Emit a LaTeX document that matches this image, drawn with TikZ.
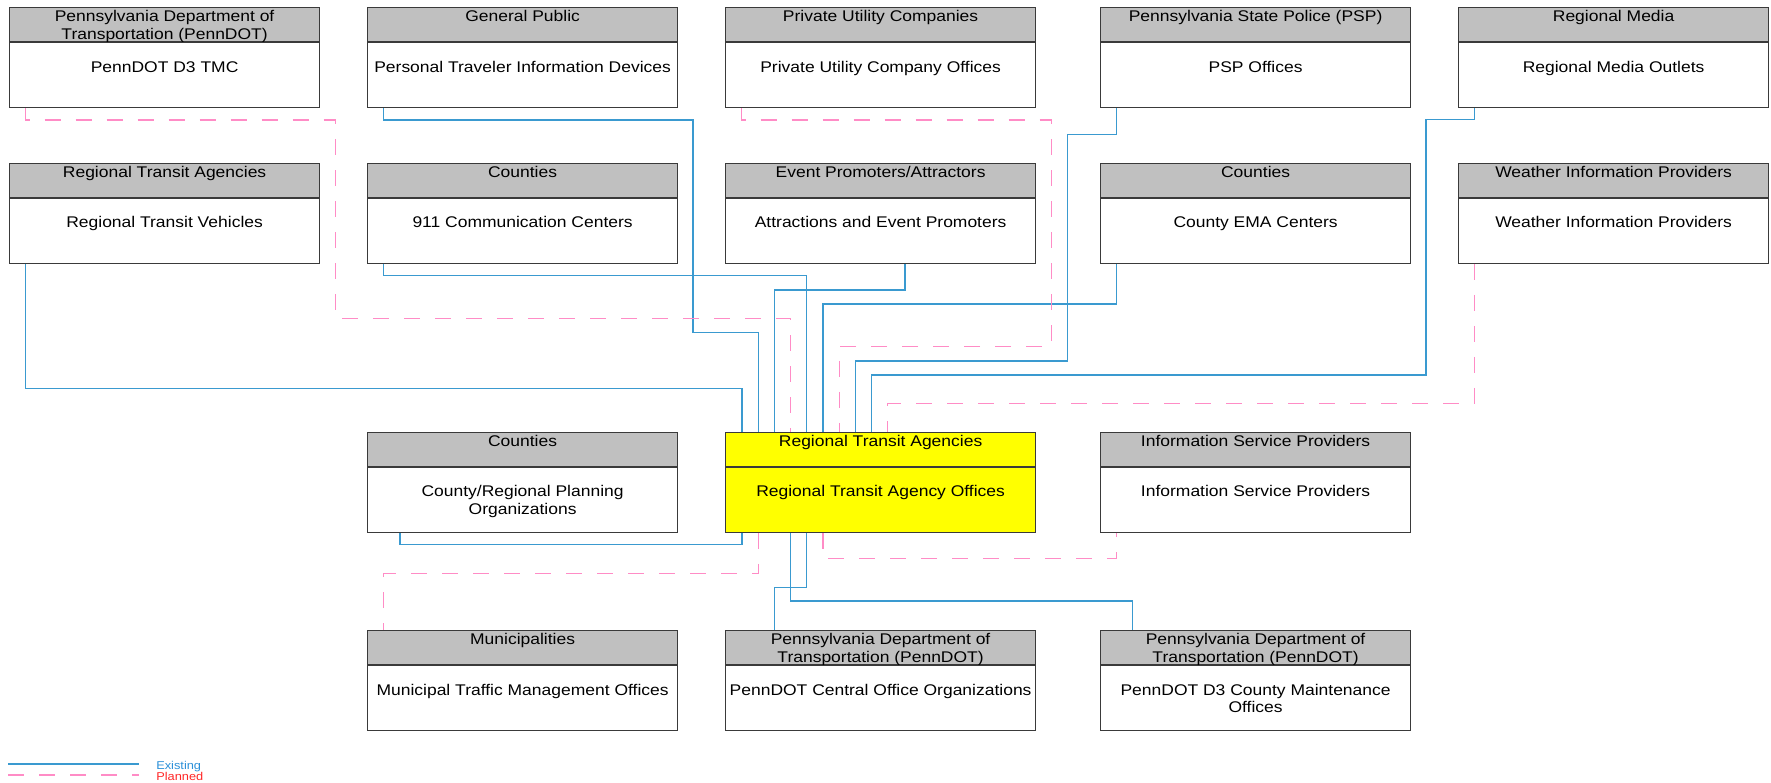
\documentclass[tikz,border=0pt]{standalone}
\usepackage{fontspec}
\setmainfont{Liberation Sans}[FakeStretch=1.13]
\usepackage{tikz}
\usetikzlibrary{calc}
\definecolor{boxc}{HTML}{3A3A3A}
\definecolor{hdrc}{HTML}{C0C0C0}
\definecolor{rtay}{HTML}{FFFF00}
\definecolor{exc}{HTML}{3A9AD0}
\definecolor{plc}{HTML}{FF8CC6}
\definecolor{extx}{HTML}{2A8FD8}
\definecolor{pltx}{HTML}{FF2626}
\newlength{\pxu}\setlength{\pxu}{0.75pt}
\tikzset{
  hdr/.style={draw=boxc,line width=0.9pt,fill=hdrc,inner sep=0pt,anchor=north west},
  bdy/.style={draw=boxc,line width=0.9pt,fill=white,inner sep=0pt,anchor=north},
  exist/.style={exc,line width=1pt},
  plan/.style={plc,line width=1pt,dash pattern=on 12pt off 11.25pt},
  lgtxt/.style={font=\fontsize{8.5}{10}\selectfont,anchor=base west,inner sep=0pt}
}
\newcommand{\sysbox}[6][]{%
  \node[hdr,#1] (#2h) at (#3,#4) {\begin{minipage}[c][34\pxu][t]{310\pxu}\centering\rule{0pt}{14\pxu}#5\end{minipage}};
  \node[bdy,#1] (#2) at (#2h.south) {\begin{minipage}[c][65\pxu][t]{310\pxu}\centering\rule{0pt}{29.5\pxu}#6\end{minipage}};}

\begin{document}
\begin{tikzpicture}[x=0.75pt,y=-0.75pt,font=\fontsize{11.6}{13.1}\selectfont]
\useasboundingbox (0,0) rectangle (1771,782);
\sysbox{tmc}{9}{7}{Pennsylvania Department of\\Transportation (PennDOT)}{PennDOT D3 TMC}
\sysbox{ptid}{367}{7}{General Public}{Personal Traveler Information Devices}
\sysbox{utl}{725}{7}{Private Utility Companies}{Private Utility Company Offices}
\sysbox{psp}{1100}{7}{Pennsylvania State Police (PSP)}{PSP Offices}
\sysbox{media}{1458}{7}{Regional Media}{Regional Media Outlets}
\sysbox{veh}{9}{162.5}{Regional Transit Agencies}{Regional Transit Vehicles}
\sysbox{pc911}{367}{162.5}{Counties}{911 Communication Centers}
\sysbox{evt}{725}{162.5}{Event Promoters/Attractors}{Attractions and Event Promoters}
\sysbox{ema}{1100}{162.5}{Counties}{County EMA Centers}
\sysbox{wx}{1458}{162.5}{Weather Information Providers}{Weather Information Providers}
\sysbox{mpo}{367}{431.5}{Counties}{County/Regional Planning\\Organizations}
\sysbox[fill=rtay]{rta}{725}{431.5}{Regional Transit Agencies}{Regional Transit Agency Offices}
\sysbox{isp}{1100}{431.5}{Information Service Providers}{Information Service Providers}
\sysbox{muni}{367}{630}{Municipalities}{Municipal Traffic Management Offices}
\sysbox{pdco}{725}{630}{Pennsylvania Department of\\Transportation (PennDOT)}{PennDOT Central Office Organizations}
\sysbox{pdcm}{1100}{630}{Pennsylvania Department of\\Transportation (PennDOT)}{PennDOT D3 County Maintenance\\Offices}

\draw[exist] ($(veh.south west)+(16.3,0)$) |- (742,388.5) -- ($(rtah.north west)+(17,0)$);
\draw[exist] ($(ptid.south west)+(16.3,0)$) |- (693,120) |- (758.2,332.3) -- ($(rtah.north west)+(33.2,0)$);
\draw[exist] ($(evt.south west)+(180,0)$) |- (774.4,290) -- ($(rtah.north west)+(49.4,0)$);
\draw[plan] ($(tmc.south west)+(16.3,0)$) |- (335.5,120) |- (790.6,318.3) -- ($(rtah.north west)+(65.6,0)$);
\draw[exist] ($(pc911.south west)+(16.3,0)$) |- (806.8,275.7) -- ($(rtah.north west)+(81.8,0)$);
\draw[exist] ($(ema.south west)+(16.3,0)$) |- (823,304) -- ($(rtah.north west)+(98,0)$);
\draw[plan] ($(utl.south west)+(16.3,0)$) |- (1051.5,120) |- (839.2,346.7) -- ($(rtah.north west)+(114.2,0)$);
\draw[exist] ($(psp.south west)+(16.3,0)$) |- (1067.5,134.3) |- (855.4,361) -- ($(rtah.north west)+(130.4,0)$);
\draw[exist] ($(media.south west)+(16.3,0)$) |- (1426,119.7) |- (871.6,375) -- ($(rtah.north west)+(146.6,0)$);
\draw[plan] ($(wx.south west)+(16.3,0)$) |- (887.8,403.3) -- ($(rtah.north west)+(162.8,0)$);
\draw[exist] ($(rta.south west)+(17,0)$) |- (400,544.5) -- ($(mpo.south west)+(33,0)$);
\draw[plan] ($(rta.south west)+(33.2,0)$) |- (383.3,573.3) -- ($(munih.north west)+(16.3,0)$);
\draw[exist] ($(rta.south west)+(65.6,0)$) |- (1132.7,601) -- ($(pdcmh.north west)+(32.7,0)$);
\draw[exist] ($(rta.south west)+(81.8,0)$) |- (774.3,587.3) -- ($(pdcoh.north west)+(49.3,0)$);
\draw[plan] ($(rta.south west)+(98,0)$) |- (1116.3,558.7) -- ($(isp.south west)+(16.3,0)$);

\coordinate (lgexa) at (8,763.7);
\coordinate (lgpla) at (8,775.3);
\node[lgtxt,text=extx] (lgex) at (156,769) {Existing};
\node[lgtxt,text=pltx] (lgpl) at (156,780.7) {Planned};
\draw[exist,line width=1.5pt] (lgexa) -- ++(131,0);
\draw[plan,line width=1.5pt] (lgpla) -- ++(131,0);
\end{tikzpicture}
\end{document}
